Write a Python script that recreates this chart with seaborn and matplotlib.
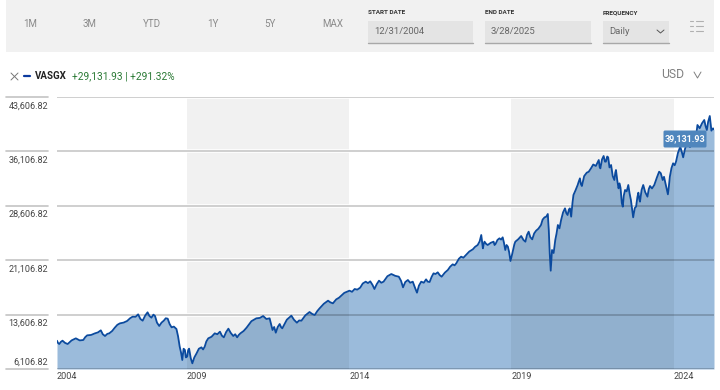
import matplotlib
matplotlib.use('Agg')
import matplotlib.pyplot as plt
from matplotlib.patches import Rectangle, FancyBboxPatch
import pandas as pd
import seaborn as sns

# values
years = [2005.00, 2005.03, 2005.07, 2005.12, 2005.17, 2005.25, 2005.33, 2005.45, 2005.58, 2005.70,
         2005.81, 2005.87, 2005.93, 2006.05, 2006.17, 2006.26, 2006.35, 2006.41, 2006.48, 2006.55,
         2006.61, 2006.70, 2006.78, 2006.86, 2006.94, 2007.05, 2007.16, 2007.25, 2007.33, 2007.42,
         2007.50, 2007.57, 2007.64, 2007.72, 2007.79, 2007.85, 2007.91, 2007.97, 2008.02, 2008.08,
         2008.15, 2008.22, 2008.29, 2008.35, 2008.41, 2008.47, 2008.53, 2008.60, 2008.68, 2008.73,
         2008.78, 2008.82, 2008.86, 2008.90, 2008.94, 2008.97, 2009.01, 2009.04, 2009.07, 2009.12,
         2009.17, 2009.23, 2009.30, 2009.37, 2009.45, 2009.50, 2009.55, 2009.60, 2009.66, 2009.76,
         2009.86, 2009.94, 2010.02, 2010.08, 2010.14, 2010.21, 2010.28, 2010.35, 2010.43, 2010.49,
         2010.55, 2010.60, 2010.65, 2010.75, 2010.84, 2010.99, 2011.14, 2011.25, 2011.35, 2011.45,
         2011.55, 2011.60, 2011.64, 2011.69, 2011.74, 2011.80, 2011.86, 2011.90, 2011.94, 2012.08,
         2012.22, 2012.30, 2012.39, 2012.46, 2012.53, 2012.65, 2012.78, 2012.86, 2012.94, 2013.02,
         2013.09, 2013.22, 2013.35, 2013.42, 2013.50, 2013.60, 2013.69, 2013.85, 2014.01, 2014.09,
         2014.17, 2014.25, 2014.34, 2014.42, 2014.51, 2014.58, 2014.65, 2014.72, 2014.78, 2014.85,
         2014.92, 2014.99, 2015.06, 2015.18, 2015.30, 2015.42, 2015.53, 2015.60, 2015.66, 2015.73,
         2015.81, 2015.88, 2015.96, 2016.03, 2016.09, 2016.15, 2016.22, 2016.30, 2016.37, 2016.42,
         2016.48, 2016.54, 2016.60, 2016.66, 2016.73, 2016.79, 2016.85, 2016.95, 2017.04, 2017.11,
         2017.19, 2017.25, 2017.30, 2017.38, 2017.45, 2017.52, 2017.60, 2017.70, 2017.81, 2017.88,
         2017.96, 2018.02, 2018.07, 2018.10, 2018.12, 2018.15, 2018.17, 2018.22, 2018.27, 2018.36,
         2018.45, 2018.48, 2018.51, 2018.57, 2018.63, 2018.68, 2018.73, 2018.77, 2018.81, 2018.85,
         2018.89, 2018.93, 2018.97, 2019.02, 2019.06, 2019.09, 2019.12, 2019.21, 2019.30, 2019.37,
         2019.43, 2019.48, 2019.53, 2019.58, 2019.64, 2019.70, 2019.76, 2019.83, 2019.91, 2019.96,
         2020.02, 2020.07, 2020.12, 2020.15, 2020.18, 2020.21, 2020.25, 2020.30, 2020.35, 2020.39,
         2020.43, 2020.48, 2020.53, 2020.59, 2020.65, 2020.69, 2020.73, 2020.77, 2020.80, 2020.84,
         2020.88, 2020.91, 2020.97, 2021.04, 2021.07, 2021.11, 2021.14, 2021.17, 2021.24, 2021.32,
         2021.38, 2021.45, 2021.52, 2021.60, 2021.69, 2021.72, 2021.74, 2021.79, 2021.84, 2021.88,
         2021.91, 2021.95, 2021.98, 2022.02, 2022.07, 2022.12, 2022.17, 2022.20, 2022.22, 2022.26,
         2022.30, 2022.33, 2022.36, 2022.40, 2022.43, 2022.46, 2022.50, 2022.55, 2022.60, 2022.64,
         2022.68, 2022.72, 2022.75, 2022.80, 2022.84, 2022.88, 2022.91, 2022.94, 2022.96, 2023.01,
         2023.06, 2023.12, 2023.19, 2023.23, 2023.27, 2023.33, 2023.40, 2023.48, 2023.55, 2023.60,
         2023.66, 2023.70, 2023.74, 2023.78, 2023.82, 2023.85, 2023.88, 2023.93, 2023.98, 2024.03,
         2024.07, 2024.13, 2024.20, 2024.25, 2024.29, 2024.35, 2024.42, 2024.50, 2024.58, 2024.63,
         2024.68, 2024.73, 2024.80, 2024.87, 2024.94, 2024.98, 2025.02, 2025.06, 2025.11, 2025.14,
         2025.16, 2025.21, 2025.24]
values = [10000, 9700, 9552, 9850, 10012, 9700, 9552, 10050, 10334, 10050,
          10104, 10500, 10747, 10800, 11023, 11150, 11437, 10900, 10655, 10950,
          11023, 11350, 11804, 12200, 12402, 12500, 12724, 13100, 13321, 13300,
          13643, 13000, 12770, 13500, 13919, 13400, 13183, 13600, 13413, 12500,
          12035, 12500, 12770, 13100, 13045, 12300, 11850, 11950, 11620, 10600,
          9184, 8400, 7346, 8900, 8725, 7700, 7806, 8700, 8909, 7600,
          6887, 7700, 8265, 8900, 9092, 8800, 9184, 9900, 10334, 10550,
          11023, 10900, 11253, 10700, 10471, 11200, 11666, 11100, 10655, 10900,
          10471, 10800, 11023, 11350, 11804, 12700, 13091, 13150, 13413, 13000,
          13091, 12200, 11483, 11900, 11115, 11900, 12310, 11900, 11712, 12900,
          13459, 12900, 12494, 12800, 12770, 13500, 13964, 13700, 13551, 14100,
          14470, 15100, 15527, 15300, 15159, 15700, 15941, 16600, 16905, 16750,
          17135, 17050, 17319, 17900, 18146, 17950, 18192, 17700, 17135, 17800,
          18284, 18000, 18146, 18900, 19203, 18950, 18836, 18250, 17365, 18100,
          18376, 18000, 18146, 17300, 16630, 17600, 18146, 18000, 18468, 18150,
          18100, 18800, 19295, 19200, 19433, 19050, 18836, 19400, 19755, 20200,
          20536, 20400, 20674, 21300, 21593, 21450, 21823, 22300, 22604, 22950,
          23202, 23700, 24581, 23400, 22742, 23400, 23661, 23350, 23202, 23500,
          23661, 23200, 23340, 23900, 24121, 23950, 24259, 23500, 22512, 23200,
          22972, 22200, 20996, 21900, 22742, 23300, 23660, 24000, 24443, 23900,
          23660, 24600, 25040, 24300, 23982, 24800, 25178, 25450, 25959, 26700,
          27016, 27100, 27476, 25270, 22000, 19662, 22512, 22100, 23890, 24800,
          25959, 25500, 26649, 27700, 28257, 27600, 27338, 28100, 28257, 27108,
          29000, 30095, 30700, 31474, 31900, 32393, 31600, 31336, 32700, 33175,
          33300, 33772, 34300, 34100, 34921, 33900, 33772, 35000, 35473, 34700,
          34691, 35400, 35289, 33900, 34232, 32700, 32164, 33200, 33543, 32100,
          31014, 31700, 31100, 29000, 28487, 30000, 30785, 30600, 31474, 30300,
          29406, 28000, 27016, 28300, 28487, 29800, 30417, 29500, 29176, 30800,
          31474, 30500, 29866, 30900, 31336, 31000, 31474, 32500, 33313, 33100,
          32164, 32600, 31795, 31000, 30187, 31300, 32623, 33800, 34462, 34200,
          34691, 35900, 36760, 36000, 35289, 36500, 37449, 36700, 37219, 38367,
          37900, 39747, 39300, 39977, 40436, 39600, 39058, 40200, 40988, 39800,
          38965, 39287, 39131.93]
y_ticks = [6106.82, 13606.82, 21106.82, 28606.82, 36106.82, 43606.82]
x_ticks = [2005.0, 2009.0, 2014.0, 2019.0, 2024.0]
x_labels = ['2004', '2009', '2014', '2019', '2024']
bands = [(2009.0, 2014.0), (2019.0, 2024.0)]
ranges = ['1M', '3M', 'YTD', '1Y', '5Y', 'MAX']
range_pos = [30, 90, 152, 213, 270, 333]

W, H = 720, 390

sns.set_theme(style='white')
plt.rcParams['font.family'] = ['Roboto', 'DejaVu Sans']

df = pd.DataFrame({'year': years, 'value': values})

fig = plt.figure(figsize=(7.2, 3.9), dpi=100, facecolor='white')
ax = fig.add_axes([57 / W, 1 - 369 / H, 657 / W, 272 / H])
ax.set_xlim(2005.0, 2025.24)
ax.set_ylim(y_ticks[0], y_ticks[-1])
ax.patch.set_alpha(0)
sns.despine(ax=ax, left=True, bottom=True, top=True, right=True)

# bands and halos go under the area
for b0, b1 in bands:
    ax.axvspan(b0, b1, color='#f1f1f1', lw=0, zorder=1)
for t in y_ticks:
    ax.axhline(t, color='white', lw=2.6, zorder=2)

area = ax.fill_between(df['year'], y_ticks[0], df['value'], color='#9bbbdb', lw=0, zorder=3)
clip_path = area.get_paths()[0]
for b0, b1 in bands:
    sp = ax.axvspan(b0, b1, color='black', alpha=0.06, lw=0, zorder=4)
    sp.set_clip_path(clip_path, area.get_transform())

# grid sits over the area, darker there
for t in y_ticks:
    ax.axhline(t, color='black', alpha=0.22, lw=1.2, zorder=5)
    ax.plot([-0.0776, -0.0137], [t, t], color='#c4c4c4', lw=1.2, clip_on=False,
            transform=ax.get_yaxis_transform())

sns.lineplot(data=df, x='year', y='value', ax=ax, color='#0b4a9e', lw=1.3,
             estimator=None, zorder=6)
ax.set_xlabel('')
ax.set_ylabel('')

ax.set_xticks(x_ticks)
ax.set_xticklabels(x_labels, ha='left', fontsize=6.5, color='#444444')
ax.tick_params(axis='x', length=0, pad=2.5)
ax.set_yticks([])

for t in y_ticks:
    dy = 5 if t == y_ticks[0] else -6.3
    ax.annotate(f'{t:,.2f}', xy=(-0.0137, t), xycoords=ax.get_yaxis_transform(),
                xytext=(0, dy), textcoords='offset points', ha='right', va='center',
                fontsize=6.5, color='#444444', annotation_clip=False)

# page furniture, in pixels
ui = fig.add_axes([0, 0, 1, 1], zorder=10)
ui.set_xlim(0, W)
ui.set_ylim(H, 0)
ui.axis('off')
ui.patch.set_alpha(0)

ui.add_patch(Rectangle((6, 0), 708, 52, color='#f1f1f1', lw=0))
for label, px in zip(ranges, range_pos):
    ui.text(px, 24, label, ha='center', va='center', fontsize=7, color='#8a8a8a')

boxes = [(368, 473, 'START DATE', '12/31/2004'), (485, 591, 'END DATE', '3/28/2025'),
         (603, 669, 'FREQUENCY', 'Daily')]
for x0, x1, cap, txt in boxes:
    ui.add_patch(Rectangle((x0, 21), x1 - x0, 22, color='#e4e4e4', lw=0))
    ui.plot([x0, x1], [42.5, 42.5], color='#a8a8a8', lw=1)
    ui.text(x0, 13, cap, ha='left', va='center', fontsize=4.6, color='#333333', fontweight='bold')
    ui.text(x0 + 6, 32, txt, ha='left', va='center', fontsize=6.8, color='#666666')
ui.plot([657, 660.5, 664], [30, 33, 30], color='#555555', lw=0.7)
for yy in (21, 26, 31):
    ui.plot([690, 693], [yy, yy], color='#b0b0b0', lw=0.8)
    ui.plot([696, 703], [yy, yy], color='#b0b0b0', lw=0.8)

ui.plot([11, 18], [73, 80], color='#777777', lw=0.7)
ui.plot([11, 18], [80, 73], color='#777777', lw=0.7)
ui.plot([24, 30], [76, 76], color='#0b3a9e', lw=1.6)
ui.text(35, 76, 'VASGX', ha='left', va='center', fontsize=7, color='#222222', fontweight='bold')
ui.text(72, 76, '+29,131.93 | +291.32%', ha='left', va='center', fontsize=7.3, color='#2a7a35')
ui.text(661, 75, 'USD', ha='left', va='center', fontsize=8.7, color='#808080')
ui.plot([694, 697.5, 701], [72, 78, 72], color='#808080', lw=0.7)

ui.add_patch(FancyBboxPatch((664, 131), 42, 16, boxstyle='round,pad=0.5,rounding_size=1.5',
                            facecolor='#4f86bd', edgecolor='none'))
ui.text(685, 139, f'{values[-1]:,.2f}', ha='center', va='center', fontsize=6.4, color='white',
        fontweight='bold')

plt.savefig('out.png', dpi=100)
